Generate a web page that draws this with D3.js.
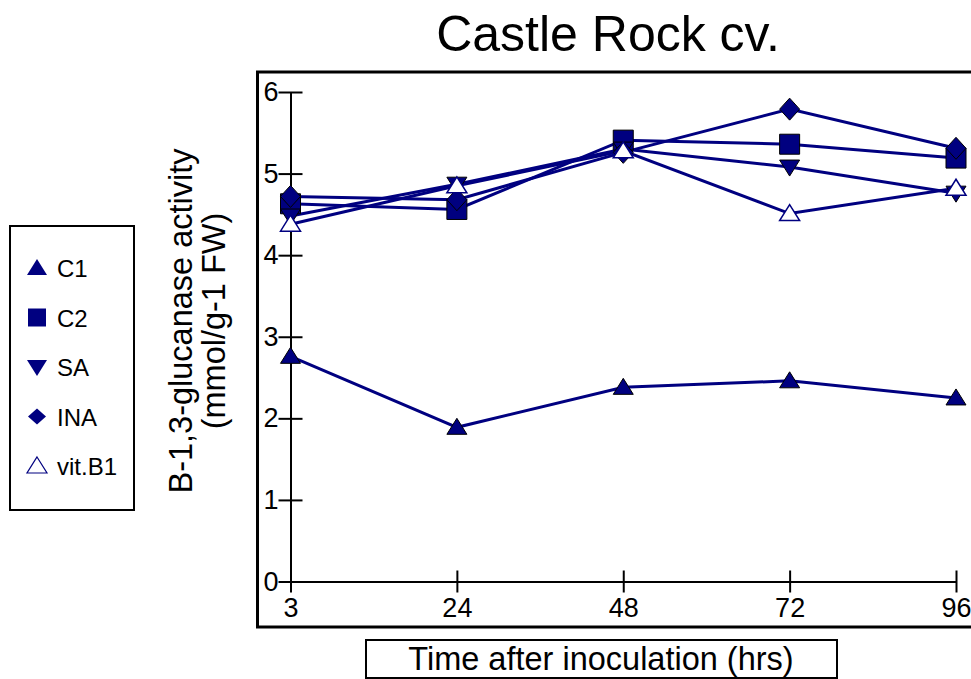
<!DOCTYPE html>
<html>
<head>
<meta charset="utf-8">
<script src="https://cdn.jsdelivr.net/npm/d3@7"></script>
<style>
    html, body { margin: 0; padding: 0; background: #fff; }
    svg { display: block; font-family: Arial, "Liberation Sans", sans-serif; }
</style>
</head>
<body>
<script>
    // values
    var hours = ['3', '24', '48', '72', '96'];
    var yTicks = [0, 1, 2, 3, 4, 5, 6];
    var seriesNames = ['C1', 'C2', 'SA', 'INA', 'vit.B1'];
    var c1 = [2.76, 1.89, 2.38, 2.46, 2.25];
    var c2 = [4.63, 4.56, 5.41, 5.36, 5.19];
    var sa = [4.48, 4.87, 5.30, 5.08, 4.76];
    var ina = [4.72, 4.68, 5.26, 5.79, 5.31];
    var vitB1 = [4.38, 4.85, 5.28, 4.51, 4.82];

    var navy = '#000080',
        tickFont = '"Liberation Sans Narrow", "Arial Narrow", Arial, sans-serif',
        width = 971,
        height = 679;

    var series = [
        {name: seriesNames[0], values: c1, shape: 'up', fill: navy},
        {name: seriesNames[1], values: c2, shape: 'square', fill: navy},
        {name: seriesNames[2], values: sa, shape: 'down', fill: navy},
        {name: seriesNames[3], values: ina, shape: 'diamond', fill: navy},
        {name: seriesNames[4], values: vitB1, shape: 'up', fill: 'none'}
    ];

    // marker path centred on 0,0
    function markerPath(shape) {
        if (shape === 'up') {
            return 'M0,-9L10,7L-10,7Z';
        }
        if (shape === 'down') {
            return 'M0,9L10,-7L-10,-7Z';
        }
        if (shape === 'square') {
            return 'M-10,-10H10V10H-10Z';
        }
        return 'M0,-11L10,0L0,11L-10,0Z';
    }

    var svg = d3.select('body').append('svg')
        .attr('width', width)
        .attr('height', height);

    var x = d3.scalePoint()
        .domain(hours)
        .range([290.5, 956]);

    var y = d3.scaleLinear()
        .domain([0, 6])
        .range([581.5, 92]);

    // outer frame, runs off the right edge like the original
    svg.append('rect')
        .attr('x', 257.5)
        .attr('y', 72)
        .attr('width', 730)
        .attr('height', 555)
        .attr('fill', 'none')
        .attr('stroke', '#000')
        .attr('stroke-width', 3);

    svg.append('text')
        .attr('x', 608)
        .attr('y', 51)
        .attr('text-anchor', 'middle')
        .attr('font-size', 50)
        .text('Castle Rock cv.');

    // y axis
    var yAxis = d3.axisLeft(y)
        .tickValues(yTicks)
        .tickFormat(d3.format('d'))
        .tickSizeInner(12)
        .tickSizeOuter(0)
        .tickPadding(2);

    var yg = svg.append('g')
        .attr('transform', 'translate(' + x(hours[0]) + ',0)')
        .call(yAxis);
    yg.select('.domain').attr('stroke-width', 2);
    yg.selectAll('.tick line')
        .attr('x2', 12)
        .attr('x1', -12)
        .attr('stroke-width', 2);
    yg.selectAll('.tick text')
        .attr('x', -12)
        .attr('font-size', 27)
        .attr('font-family', tickFont);

    // x axis
    var xAxis = d3.axisBottom(x)
        .tickSizeInner(11)
        .tickSizeOuter(0)
        .tickPadding(5);

    var xg = svg.append('g')
        .attr('transform', 'translate(0,' + y(0) + ')')
        .call(xAxis);
    xg.select('.domain').attr('stroke-width', 2);
    xg.selectAll('.tick line')
        .attr('y1', -11)
        .attr('stroke-width', 2);
    xg.selectAll('.tick text')
        .attr('font-size', 27)
        .attr('font-family', tickFont);

    // x title in its own box
    svg.append('rect')
        .attr('x', 366)
        .attr('y', 640)
        .attr('width', 471)
        .attr('height', 38)
        .attr('fill', 'none')
        .attr('stroke', '#000')
        .attr('stroke-width', 2);
    svg.append('text')
        .attr('x', 601)
        .attr('y', 670)
        .attr('text-anchor', 'middle')
        .attr('font-size', 32.5)
        .text('Time after inoculation (hrs)');

    // y title, two lines
    var yTitle = svg.append('text')
        .attr('transform', 'translate(192,321) rotate(-90)')
        .attr('text-anchor', 'middle')
        .attr('font-size', 32.5);
    yTitle.append('tspan')
        .attr('x', 0)
        .attr('y', 0)
        .text('B-1,3-glucanase activity');
    yTitle.append('tspan')
        .attr('x', 0)
        .attr('y', 33)
        .text('(mmol/g-1 FW)');

    // series
    var line = d3.line()
        .x(function (d, i) { return x(hours[i]); })
        .y(function (d) { return y(d); });

    series.forEach(function (s) {
        svg.append('path')
            .datum(s.values)
            .attr('d', line)
            .attr('fill', 'none')
            .attr('stroke', navy)
            .attr('stroke-width', 3);
    });

    series.forEach(function (s) {
        svg.append('g').selectAll('path')
            .data(s.values)
            .join('path')
            .attr('transform', function (d, i) {
                return 'translate(' + x(hours[i]) + ',' + y(d) + ')';
            })
            .attr('d', markerPath(s.shape))
            .attr('fill', s.fill === 'none' ? '#fff' : s.fill)
            .attr('stroke', s.fill === 'none' ? navy : '#000')
            .attr('stroke-width', s.fill === 'none' ? 1.5 : 1);
    });

    // legend
    svg.append('rect')
        .attr('x', 10)
        .attr('y', 226)
        .attr('width', 124)
        .attr('height', 284)
        .attr('fill', 'none')
        .attr('stroke', '#000')
        .attr('stroke-width', 2);

    var legend = svg.append('g').selectAll('g')
        .data(series)
        .join('g')
        .attr('transform', function (d, i) {
            return 'translate(37,' + (268 + i * 49.5) + ')';
        });
    legend.append('path')
        .attr('d', function (d) {
            return d.shape === 'diamond' ? 'M0,-8L9,0L0,8L-9,0Z' :
                (d.shape === 'square' ? 'M-9,-9H9V9H-9Z' : markerPath(d.shape));
        })
        .attr('fill', function (d) { return d.fill === 'none' ? '#fff' : d.fill; })
        .attr('stroke', navy)
        .attr('stroke-width', function (d) { return d.fill === 'none' ? 1.2 : 0; });
    legend.append('text')
        .attr('x', 20)
        .attr('y', 9)
        .attr('font-size', 24)
        .text(function (d) { return d.name; });
</script>
</body>
</html>
